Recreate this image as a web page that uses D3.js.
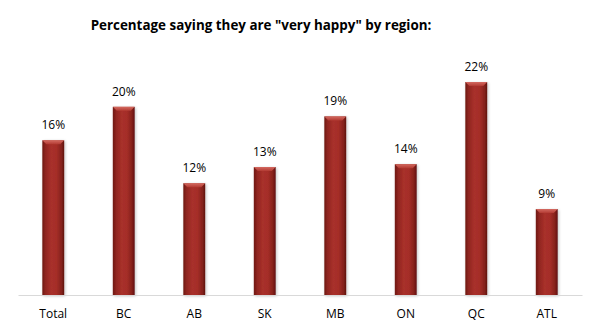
<!DOCTYPE html>
<html><head><meta charset="utf-8">
<script src="https://cdn.jsdelivr.net/npm/d3@7"></script>
<style>body{margin:0;background:#fff}svg{display:block}</style>
</head><body>
<svg id="c" width="600" height="334"></svg>
<script>
const categories = ["Total","BC","AB","SK","MB","ON","QC","ATL"];
const values = [16.2, 19.7, 11.7, 13.4, 18.7, 13.7, 22.3, 9.0];
const labels = ["16%","20%","12%","13%","19%","14%","22%","9%"];
const title = 'Percentage saying they are "very happy" by region:';

const svg = d3.select("#c");
const left = 18, right = 582, base = 295;
const x = d3.scaleBand().domain(categories).range([left, right]).paddingInner(0.69).paddingOuter(0.345);
const y = d3.scaleLinear().domain([0, 25]).range([base, base - 25*9.55]);

const defs = svg.append("defs");
const g = defs.append("linearGradient").attr("id","barg").attr("x1","0").attr("x2","1").attr("y1","0").attr("y2","0");
[[0,"#6e1712"],[0.15,"#902620"],[0.4,"#a8302a"],[0.65,"#a52e28"],[0.88,"#84211b"],[1,"#5e120e"]].forEach(([o,c])=>g.append("stop").attr("offset",o).attr("stop-color",c));
const gt = defs.append("linearGradient").attr("id","topg").attr("x1","0").attr("x2","0").attr("y1","0").attr("y2","1");
[[0,"#d46a60"],[1,"#b23a32"]].forEach(([o,c])=>gt.append("stop").attr("offset",o).attr("stop-color",c));
const f = defs.append("filter").attr("id","sh").attr("x","-30%").attr("y","-10%").attr("width","160%").attr("height","130%");
f.append("feGaussianBlur").attr("in","SourceAlpha").attr("stdDeviation","1.5").attr("result","b");
f.append("feOffset").attr("in","b").attr("dx","1").attr("dy","1").attr("result","o");
f.append("feComponentTransfer").attr("in","o").attr("result","o2").append("feFuncA").attr("type","linear").attr("slope","0.25");
const m = f.append("feMerge"); m.append("feMergeNode").attr("in","o2"); m.append("feMergeNode").attr("in","SourceGraphic");

svg.append("text").attr("x",261).attr("y",30).attr("text-anchor","middle")
  .attr("font-family","'Open Sans', sans-serif").attr("font-weight","bold").attr("font-size",13.4)
  .attr("fill","#000").text(title);

const data = categories.map((c,i)=>({c, v: values[i], l: labels[i]}));
const bars = svg.append("g").selectAll("g").data(data).join("g").attr("filter","url(#sh)");
bars.append("rect").attr("x",d=>x(d.c)).attr("y",d=>y(d.v)).attr("width",x.bandwidth()).attr("height",d=>base - y(d.v)).attr("fill","url(#barg)");
bars.append("path").attr("d",d=>{const x0=x(d.c), x1=x0+x.bandwidth(), t=y(d.v), h=4;
  return `M${x0},${t}L${x1},${t}L${x1-4},${t+h}L${x0+4},${t+h}Z`;}).attr("fill","url(#topg)");

svg.append("g").selectAll("text").data(data).join("text")
  .attr("x",d=>x(d.c)+x.bandwidth()/2).attr("y",d=>y(d.v)-11).attr("text-anchor","middle")
  .attr("font-family","'Open Sans', sans-serif").attr("font-size",12).attr("fill","#000").text(d=>d.l);

const ax = svg.append("g").attr("transform",`translate(0,${base})`).call(d3.axisBottom(x).tickSize(0).tickPadding(14));
ax.select(".domain").attr("stroke","#d9d9d9").attr("stroke-width",1);
ax.selectAll("text").attr("font-family","'Open Sans', sans-serif").attr("font-size",12).attr("fill","#000");
</script>
</body></html>
